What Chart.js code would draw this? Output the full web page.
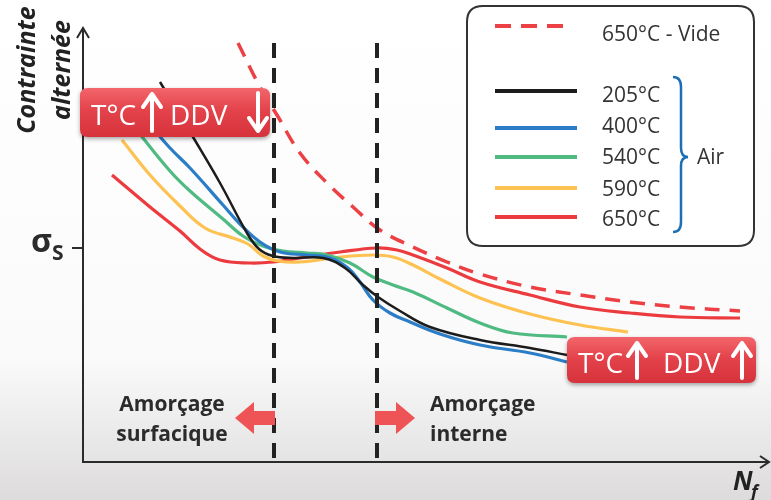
<!DOCTYPE html>
<html>
<head>
<meta charset="utf-8">
<script src="https://cdn.jsdelivr.net/npm/chart.js@4.4.1/dist/chart.umd.min.js"></script>
<style>
  html, body { margin: 0; padding: 0; background: #fff; }
  canvas { display: block; }
</style>
</head>
<body>
<canvas id="wohler" width="771" height="500"></canvas>
<script>
// Schematic S-N curves (arbitrary units: x = Nf, y = alternating stress)
const tempLabels = ['205°C', '400°C', '540°C', '590°C', '650°C'];
const tempColors = ['#1c1c1c', '#2a7dc6', '#4fbb82', '#fdc251', '#ec3b3f'];
const vacuumLabel = '650°C - Vide';
const vacuumColor = '#ec4045';

const nf205 = [77, 110, 137, 164, 176, 190, 210, 240, 262, 280, 295, 317, 347, 397, 447, 484];
const s205  = [380, 325, 279, 229, 213, 206, 204, 204, 194, 177, 165, 151, 135, 122, 114, 107];

const nf400 = [67, 87, 107, 140, 157, 177, 197, 224, 247, 265, 277, 290, 307, 327, 357, 397, 447, 484];
const s400  = [337, 314, 294, 257, 238, 220, 210, 207, 204, 194, 180, 162, 149, 140, 128, 117, 109, 100];

const nf540 = [52, 87, 107, 140, 160, 180, 200, 224, 244, 267, 290, 310, 330, 364, 397, 430, 484];
const s540  = [334, 291, 271, 243, 226, 216, 211, 209, 207, 199, 185, 177, 170, 154, 139, 129, 125];

const nf590 = [39, 67, 97, 122, 150, 165, 180, 195, 217, 257, 290, 310, 330, 357, 397, 447, 497, 545];
const s590  = [322, 287, 256, 234, 224, 218, 206, 201, 200, 205, 207, 205, 197, 183, 164, 148, 137, 130];

const nf650 = [29, 67, 97, 117, 137, 167, 190, 217, 257, 294, 314, 330, 364, 397, 447, 497, 547, 597, 657];
const s650  = [287, 255, 231, 213, 202, 199, 200, 204, 210, 214, 212, 207, 194, 180, 167, 155, 149, 145, 144];

const nfVide = [155, 177, 194, 217, 244, 270, 297, 330, 364, 397, 447, 497, 547, 597, 657];
const sVide  = [419, 375, 347, 309, 279, 255, 232, 215, 200, 188, 175, 167, 160, 155, 151];

const boundaryNf = [191, 294];     // surface / internal initiation limits
const boundaryTop = 419;
const SIGMA_S = 214;               // fatigue limit mark on the stress axis

const FONT = '"Open Sans", "DejaVu Sans", sans-serif';

const toPoints = (xs, ys) => xs.map((x, i) => ({ x: x, y: ys[i] }));

const curveSeries = [
    [nf205, s205], [nf400, s400], [nf540, s540], [nf590, s590], [nf650, s650]
];

const datasets = [];
boundaryNf.forEach(x => {
    datasets.push({
        label: '',
        data: [{ x: x, y: boundaryTop }, { x: x, y: 0 }],
        borderColor: '#222',
        borderWidth: 4,
        borderDash: [15, 10],
        tension: 0,
        pointRadius: 0
    });
});
curveSeries.forEach((s, i) => {
    datasets.push({
        label: tempLabels[i],
        data: toPoints(s[0], s[1]),
        borderColor: tempColors[i],
        borderWidth: i === 0 ? 2.5 : 3.2,
        tension: 0.4,
        pointRadius: 0
    });
});
datasets.push({
    label: vacuumLabel,
    data: toPoints(nfVide, sVide),
    borderColor: vacuumColor,
    borderWidth: 3.5,
    borderDash: [15, 10],
    tension: 0.4,
    pointRadius: 0
});

function roundedRect(ctx, x, y, w, h, r) {
    ctx.beginPath();
    ctx.moveTo(x + r, y);
    ctx.lineTo(x + w - r, y);
    ctx.quadraticCurveTo(x + w, y, x + w, y + r);
    ctx.lineTo(x + w, y + h - r);
    ctx.quadraticCurveTo(x + w, y + h, x + w - r, y + h);
    ctx.lineTo(x + r, y + h);
    ctx.quadraticCurveTo(x, y + h, x, y + h - r);
    ctx.lineTo(x, y + r);
    ctx.quadraticCurveTo(x, y, x + r, y);
    ctx.closePath();
}

function whiteArrow(ctx, x, yFrom, yTo) {
    const dir = yTo < yFrom ? 1 : -1;   // 1 = pointing up
    ctx.beginPath();
    ctx.moveTo(x, yFrom);
    ctx.lineTo(x, yTo);
    ctx.moveTo(x - 9, yTo + dir * 13);
    ctx.lineTo(x, yTo);
    ctx.lineTo(x + 9, yTo + dir * 13);
    ctx.stroke();
}

function redBox(ctx, box) {
    ctx.save();
    ctx.shadowColor = 'rgba(0,0,0,0.35)';
    ctx.shadowBlur = 4;
    ctx.shadowOffsetY = 2;
    const g = ctx.createLinearGradient(0, box.y, 0, box.y + box.h);
    g.addColorStop(0, '#f2666b');
    g.addColorStop(0.45, '#e4434b');
    g.addColorStop(1, '#d6323b');
    ctx.fillStyle = g;
    roundedRect(ctx, box.x, box.y, box.w, box.h, 8);
    ctx.fill();
    ctx.restore();

    ctx.save();
    ctx.fillStyle = '#fff';
    ctx.font = '28px ' + FONT;
    ctx.textBaseline = 'alphabetic';
    ctx.fillText('T°C', box.tx, box.base);
    ctx.fillText('DDV', box.dx, box.base);
    ctx.strokeStyle = '#fff';
    ctx.lineWidth = 4;
    ctx.lineCap = 'round';
    ctx.lineJoin = 'round';
    box.arrows.forEach(a => whiteArrow(ctx, a[0], a[1], a[2]));
    ctx.restore();
}

function blockArrow(ctx, xTip, xBase, xTail, yc) {
    ctx.beginPath();
    ctx.moveTo(xTip, yc);
    ctx.lineTo(xBase, yc - 16);
    ctx.lineTo(xBase, yc - 7);
    ctx.lineTo(xTail, yc - 7);
    ctx.lineTo(xTail, yc + 7);
    ctx.lineTo(xBase, yc + 7);
    ctx.lineTo(xBase, yc + 16);
    ctx.closePath();
    ctx.fill();
}

const decorPlugin = {
    id: 'decor',
    beforeDraw(chart) {
        const { ctx, width, height } = chart;
        ctx.save();
        const g = ctx.createLinearGradient(0, 0, 0, height);
        g.addColorStop(0, '#ffffff');
        g.addColorStop(0.72, '#fafafa');
        g.addColorStop(1, '#dddbdb');
        ctx.fillStyle = g;
        ctx.fillRect(0, 0, width, height);
        ctx.restore();
    },
    afterDraw(chart) {
        const { ctx, chartArea } = chart;
        const yScale = chart.scales.y;
        const ink = '#2b2b2b';

        ctx.save();
        // axis arrow heads
        ctx.strokeStyle = ink;
        ctx.lineWidth = 2;
        ctx.beginPath();
        ctx.moveTo(chartArea.left - 6, chartArea.top + 8);
        ctx.lineTo(chartArea.left, chartArea.top - 2);
        ctx.lineTo(chartArea.left + 6, chartArea.top + 8);
        ctx.moveTo(chartArea.right - 8, chartArea.bottom - 6);
        ctx.lineTo(chartArea.right + 1, chartArea.bottom);
        ctx.lineTo(chartArea.right - 8, chartArea.bottom + 6);
        ctx.stroke();

        // sigma_S label
        const ys = yScale.getPixelForValue(SIGMA_S);
        ctx.fillStyle = ink;
        ctx.font = 'bold 32px ' + FONT;
        ctx.fillText('σ', 31, ys + 4);
        ctx.font = 'bold 21px ' + FONT;
        ctx.fillText('S', 52, ys + 12);

        // axis titles
        ctx.save();
        ctx.translate(35, 70);
        ctx.rotate(-Math.PI / 2);
        ctx.textAlign = 'center';
        ctx.font = 'italic bold 25px ' + FONT;
        ctx.fillStyle = '#222';
        ctx.fillText('Contrainte', 0, 0);
        ctx.fillText('alternée', 0, 35);
        ctx.restore();

        ctx.font = 'italic bold 26px ' + FONT;
        ctx.fillStyle = '#222';
        ctx.fillText('N', 733, 490);
        ctx.font = 'italic bold 18px ' + FONT;
        ctx.fillText('f', 751, 498);

        // legend box
        ctx.fillStyle = '#fff';
        ctx.strokeStyle = '#333';
        ctx.lineWidth = 2;
        roundedRect(ctx, 467, 6, 287, 240, 16);
        ctx.fill();
        ctx.stroke();

        ctx.lineWidth = 4;
        ctx.strokeStyle = vacuumColor;
        ctx.setLineDash([16, 10]);
        ctx.beginPath();
        ctx.moveTo(495, 26);
        ctx.lineTo(568, 26);
        ctx.stroke();
        ctx.setLineDash([]);

        ctx.font = '21px ' + FONT;
        ctx.fillStyle = '#333';
        ctx.fillText(vacuumLabel, 602, 41);
        const rowY = [91, 128, 157, 188, 217];
        const rowBase = [102, 133, 164, 196, 226];
        tempLabels.forEach((lab, i) => {
            ctx.strokeStyle = tempColors[i];
            ctx.beginPath();
            ctx.moveTo(495, rowY[i]);
            ctx.lineTo(577, rowY[i]);
            ctx.stroke();
            ctx.fillText(lab, 602, rowBase[i]);
        });
        ctx.fillText('Air', 697, 164);

        // brace
        ctx.strokeStyle = '#1b6fb5';
        ctx.lineWidth = 2.5;
        const bx = 673, top = 77, bot = 232, mid = 157;
        ctx.beginPath();
        ctx.moveTo(bx, top);
        ctx.quadraticCurveTo(bx + 8, top, bx + 8, top + 10);
        ctx.lineTo(bx + 8, mid - 9);
        ctx.quadraticCurveTo(bx + 8, mid, bx + 15, mid);
        ctx.quadraticCurveTo(bx + 8, mid, bx + 8, mid + 9);
        ctx.lineTo(bx + 8, bot - 10);
        ctx.quadraticCurveTo(bx + 8, bot, bx, bot);
        ctx.stroke();

        // trend boxes
        redBox(ctx, { x: 80, y: 88, w: 190, h: 49, tx: 91, dx: 170, base: 125,
            arrows: [[152, 131, 94], [258, 93, 131]] });
        redBox(ctx, { x: 567, y: 337, w: 189, h: 46, tx: 578, dx: 663, base: 373,
            arrows: [[637, 378, 343], [742, 378, 343]] });

        // initiation zones
        ctx.fillStyle = '#ee5356';
        blockArrow(ctx, 235, 254, 275, 418);
        blockArrow(ctx, 415, 396, 375, 418);

        ctx.fillStyle = '#2b2b2b';
        ctx.font = 'bold 21px ' + FONT;
        ctx.textAlign = 'center';
        ctx.fillText('Amorçage', 172, 411);
        ctx.fillText('surfacique', 172, 441);
        ctx.textAlign = 'left';
        ctx.fillText('Amorçage', 430, 411);
        ctx.fillText('interne', 430, 441);
        ctx.restore();
    }
};

new Chart(document.getElementById('wohler'), {
    type: 'line',
    data: { datasets: datasets },
    options: {
        responsive: false,
        animation: false,
        devicePixelRatio: 1,
        layout: { padding: { top: 30, right: 3, left: 0, bottom: 0 } },
        plugins: { legend: { display: false }, tooltip: { enabled: false } },
        scales: {
            x: {
                type: 'linear',
                min: 0,
                max: 685,
                afterFit: s => { s.height = 38; },
                afterBuildTicks: s => { s.ticks = []; },
                ticks: { display: false },
                grid: { display: false },
                border: { color: '#2b2b2b', width: 2 }
            },
            y: {
                type: 'linear',
                min: 0,
                max: 432,
                afterFit: s => { s.width = 83; },
                afterBuildTicks: s => { s.ticks = [{ value: SIGMA_S }]; },
                ticks: { display: false },
                grid: { drawOnChartArea: false, tickLength: 11, color: '#2b2b2b', lineWidth: 2 },
                border: { color: '#2b2b2b', width: 2 }
            }
        }
    },
    plugins: [decorPlugin]
});
</script>
</body>
</html>
